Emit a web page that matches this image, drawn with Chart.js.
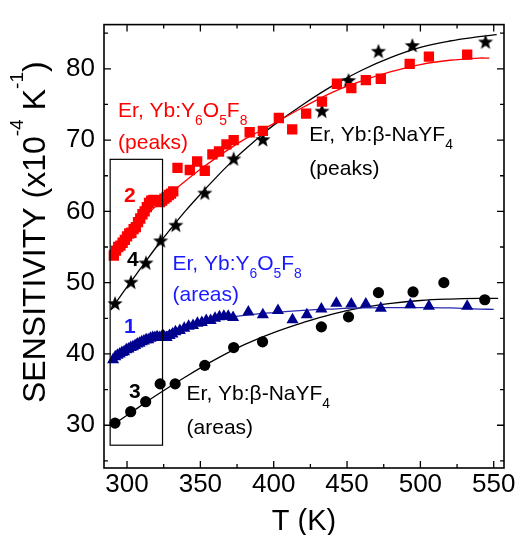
<!DOCTYPE html>
<html>
<head>
<meta charset="utf-8">
<script src="https://cdn.jsdelivr.net/npm/chart.js@4.4.1/dist/chart.umd.min.js"></script>
<style>
  html, body { margin: 0; padding: 0; background: #fff; }
  canvas { display: block; }
</style>
</head>
<body>
<canvas id="chart" width="519" height="535"></canvas>
<script>
const FONT = "'Liberation Sans', Arial, Helvetica, sans-serif";

// axis ticks
const xTicks = [300, 350, 400, 450, 500, 550];
const xMinor = [325, 375, 425, 475, 525];
const yTicks = [30, 40, 50, 60, 70, 80];
const yMinor = [25, 35, 45, 55, 65, 75, 85];

// 2: Er,Yb:Y6O5F8 (peaks) - red squares
const peaksYT = [291, 292.5, 294, 295.5, 297, 298.5, 300, 301.5, 303, 304.5, 306, 307.5, 309, 310.5, 312, 313.5, 315, 316.5, 318, 319.5, 321, 322.5, 324, 325.5, 327, 328.5, 330, 331.5,
  334.4, 342.8, 347.8, 353.0, 358.2, 362.7, 367.8, 372.7, 383.6, 392.6, 403.5, 412.6, 422.1, 432.9, 443.1, 452.9, 462.8, 473.0, 492.7, 505.8, 531.9];
const peaksYS = [53.8, 54.5, 55.0, 55.2, 55.6, 56.0, 56.5, 56.9, 57.0, 57.5, 57.8, 58.5, 59.0, 59.6, 60.0, 60.6, 61.2, 61.5, 61.6, 61.5, 61.5, 61.3, 61.5, 61.8, 62.0, 62.3, 62.5, 62.8,
  66.1, 65.8, 67.0, 65.7, 68.0, 68.4, 69.4, 70.0, 71.1, 71.3, 73.1, 71.5, 73.7, 75.4, 77.9, 77.3, 78.4, 78.6, 80.7, 81.7, 82.0];
const peaksYFitT = [288, 300, 310, 320, 330, 340, 350, 360, 370, 380, 390, 400, 420, 440, 460, 480, 500, 520, 540, 547];
const peaksYFitS = [54.4, 56.9, 58.9, 60.8, 62.6, 64.3, 65.9, 67.4, 68.8, 70.1, 71.2, 72.3, 74.6, 76.7, 78.3, 79.6, 80.6, 81.2, 81.5, 81.5];

// 4: Er,Yb:b-NaYF4 (peaks) - black stars
const peaksNT = [291.8, 302.7, 312.9, 322.9, 333.3, 353.0, 372.7, 392.6, 432.9, 451.0, 471.4, 494.5, 544.4];
const peaksNS = [47.0, 50.0, 52.7, 55.8, 58.0, 62.5, 67.3, 70.0, 74.0, 78.3, 82.4, 83.2, 83.7];
const peaksNFitT = [289, 300, 310, 320, 330, 340, 350, 360, 370, 380, 390, 400, 420, 440, 460, 480, 500, 520, 540, 552];
const peaksNFitS = [46.2, 49.4, 52.2, 55.0, 57.6, 60.1, 62.4, 64.6, 66.7, 68.6, 70.4, 72.1, 75.0, 77.6, 79.8, 81.6, 83.0, 83.9, 84.5, 84.8];

// 1: Er,Yb:Y6O5F8 (areas) - navy triangles
const areasYT = [290.5, 292, 293.5, 295, 296.5, 298, 299.5, 301, 302.5, 304, 305.5, 307, 308.5, 310, 311.5, 313, 314.5, 316, 317.5, 319, 320.5, 322, 323.5, 325, 327, 329, 331, 333, 336, 339, 342, 345, 348, 351, 354, 357, 360, 363, 366, 369,
  372.3, 382.7, 392.6, 402.9, 412.8, 422.6, 432.5, 442.7, 452.9, 462.8, 473.0, 493.1, 505.8, 531.9];
const areasYS = [39.2, 39.6, 39.8, 40.0, 40.2, 40.3, 40.6, 40.7, 40.9, 41.0, 41.2, 41.4, 41.5, 41.7, 41.8, 42.0, 42.0, 42.2, 42.3, 42.3, 42.4, 42.3, 42.4, 42.5, 42.3, 42.6, 42.8, 43.1, 43.3, 43.6, 43.9, 44.0, 44.3, 44.4, 44.7, 44.7, 45.0, 45.2, 45.3, 45.3,
  45.1, 45.9, 45.5, 46.1, 44.8, 45.5, 46.3, 47.1, 47.0, 47.0, 46.4, 46.9, 46.7, 46.7];
const areasYFitT = [289, 295, 300, 310, 320, 330, 340, 350, 360, 380, 400, 420, 440, 460, 480, 500, 520, 540, 550];
const areasYFitS = [39.0, 39.9, 40.6, 41.7, 42.6, 43.3, 43.9, 44.4, 44.8, 45.4, 45.8, 46.1, 46.3, 46.45, 46.5, 46.5, 46.45, 46.3, 46.25];

// 3: Er,Yb:b-NaYF4 (areas) - black circles
const areasNT = [291.8, 302.5, 312.7, 322.6, 332.8, 353.0, 372.7, 392.4, 432.5, 451.0, 471.4, 495.0, 516.0, 543.9];
const areasNS = [30.3, 31.9, 33.3, 35.8, 35.8, 38.4, 40.9, 41.7, 43.8, 45.2, 48.6, 48.7, 50.0, 47.6];
const areasNFitT = [290, 300, 320, 340, 360, 380, 400, 420, 440, 460, 480, 500, 520, 540, 553];
const areasNFitS = [30.0, 31.4, 34.2, 36.8, 39.2, 41.3, 43.0, 44.4, 45.6, 46.5, 47.1, 47.5, 47.7, 47.8, 47.8];

// inset box (T range, S range)
const boxT = [288.5, 324.2];
const boxS = [27.2, 67.3];

const pts = (xs, ys) => xs.map((x, i) => ({ x: x, y: ys[i] }));

function makeStar(r) {
    const c = document.createElement('canvas');
    c.width = c.height = Math.ceil(2 * r + 2);
    const g = c.getContext('2d');
    g.beginPath();
    for (let i = 0; i < 10; i++) {
        const a = -Math.PI / 2 + i * Math.PI / 5;
        const rr = i % 2 ? r * 0.42 : r;
        g.lineTo(c.width / 2 + rr * Math.cos(a), c.height / 2 + rr * Math.sin(a));
    }
    g.closePath();
    g.fillStyle = '#000';
    g.fill();
    return c;
}
const star = makeStar(8);

// text with sub/superscripts, drawn left to right from (x, y) baseline
function drawRich(ctx, parts, x, y, size, color) {
    ctx.fillStyle = color;
    ctx.textAlign = 'left';
    ctx.textBaseline = 'alphabetic';
    let cx = x;
    parts.forEach(p => {
        const txt = p[0], mode = p[1];
        let s = size, dy = 0;
        if (mode === 'sub') { s = size * 0.66; dy = size * 0.38; }
        if (mode === 'sup') { s = size * 0.6; dy = -size * 0.68; }
        ctx.font = s + 'px ' + FONT;
        ctx.fillText(txt, cx, y + dy);
        cx += ctx.measureText(txt).width;
    });
}

const y6o5f8 = [['Er, Yb:Y', ''], ['6', 'sub'], ['O', ''], ['5', 'sub'], ['F', ''], ['8', 'sub']];
const naYF4 = [['Er, Yb:\u03B2-NaYF', ''], ['4', 'sub']];

// labels anchored in data coordinates
const labels = [
    { t: 293.9, s: 73.3, parts: y6o5f8, color: '#ff0000' },
    { t: 293.9, s: 68.8, parts: [['(peaks)', '']], color: '#ff0000' },
    { t: 424.3, s: 69.9, parts: naYF4, color: '#000' },
    { t: 424.3, s: 65.1, parts: [['(peaks)', '']], color: '#000' },
    { t: 331.0, s: 51.8, parts: y6o5f8, color: '#1a1aff' },
    { t: 331.0, s: 47.4, parts: [['(areas)', '']], color: '#1a1aff' },
    { t: 340.6, s: 33.6, parts: naYF4, color: '#000' },
    { t: 340.6, s: 28.8, parts: [['(areas)', '']], color: '#000' }
];
const numbers = [
    { t: 302.0, s: 62.1, text: '2', color: '#ff0000' },
    { t: 303.9, s: 53.2, text: '4', color: '#000' },
    { t: 302.0, s: 43.8, text: '1', color: '#1a1aff' },
    { t: 305.4, s: 34.6, text: '3', color: '#000' }
];

const framePlugin = {
    id: 'frame',
    afterDatasetsDraw(chart) {
        const ctx = chart.ctx, a = chart.chartArea;
        const xs = chart.scales.x, ys = chart.scales.y;
        ctx.save();
        // inset rectangle
        ctx.strokeStyle = '#000';
        ctx.lineWidth = 1.2;
        const bx0 = xs.getPixelForValue(boxT[0]), bx1 = xs.getPixelForValue(boxT[1]);
        const by0 = ys.getPixelForValue(boxS[1]), by1 = ys.getPixelForValue(boxS[0]);
        ctx.strokeRect(bx0, by0, bx1 - bx0, by1 - by0);

        // frame
        ctx.lineWidth = 1.6;
        ctx.strokeRect(a.left, a.top, a.right - a.left, a.bottom - a.top);
        ctx.lineWidth = 1.3;
        ctx.beginPath();
        const tickX = (v, len) => {
            const p = xs.getPixelForValue(v);
            ctx.moveTo(p, a.bottom); ctx.lineTo(p, a.bottom - len);
            ctx.moveTo(p, a.top); ctx.lineTo(p, a.top + len);
        };
        const tickY = (v, len) => {
            const p = ys.getPixelForValue(v);
            ctx.moveTo(a.left, p); ctx.lineTo(a.left + len, p);
            ctx.moveTo(a.right, p); ctx.lineTo(a.right - len, p);
        };
        xTicks.forEach(v => tickX(v, 7));
        xMinor.forEach(v => tickX(v, 4));
        yTicks.forEach(v => tickY(v, 7));
        yMinor.forEach(v => tickY(v, 4));
        ctx.stroke();

        // series labels
        labels.forEach(l => {
            drawRich(ctx, l.parts, xs.getPixelForValue(l.t), ys.getPixelForValue(l.s), 21, l.color);
        });
        ctx.font = 'bold 21px ' + FONT;
        ctx.textAlign = 'center';
        ctx.textBaseline = 'middle';
        numbers.forEach(n => {
            ctx.fillStyle = n.color;
            ctx.fillText(n.text, xs.getPixelForValue(n.t), ys.getPixelForValue(n.s));
        });

        // axis titles
        ctx.fillStyle = '#000';
        ctx.font = '29px ' + FONT;
        ctx.textAlign = 'center';
        ctx.textBaseline = 'alphabetic';
        ctx.fillText('T (K)', (a.left + a.right) / 2, 530);

        ctx.translate(45, 403);
        ctx.rotate(-Math.PI / 2);
        drawRich(ctx, [['SENSITIVITY (x10', ''], ['-4', 'sup'], [' K', ''], ['-1', 'sup'], [')', '']], 0, 0, 32, '#000');
        ctx.restore();
    }
};

const tickFont = { size: 26, family: FONT };

new Chart(document.getElementById('chart'), {
    type: 'scatter',
    data: {
        datasets: [
            { data: pts(peaksYT, peaksYS), pointStyle: 'rect', pointRadius: 7.3, backgroundColor: '#ff0000', borderWidth: 0, order: 1 },
            { data: pts(peaksNT, peaksNS), pointStyle: star, pointRadius: 8, backgroundColor: '#000', order: 1 },
            { data: pts(areasYT, areasYS), pointStyle: 'triangle', pointRadius: 7, backgroundColor: '#00008f', borderWidth: 0, order: 1 },
            { data: pts(areasNT, areasNS), pointStyle: 'circle', pointRadius: 5.6, backgroundColor: '#000', borderWidth: 0, order: 1 },
            { data: pts(peaksYFitT, peaksYFitS), showLine: true, pointRadius: 0, borderColor: '#ff0000', borderWidth: 1.3, tension: 0.4, order: 2 },
            { data: pts(peaksNFitT, peaksNFitS), showLine: true, pointRadius: 0, borderColor: '#000', borderWidth: 1.3, tension: 0.4, order: 2 },
            { data: pts(areasYFitT, areasYFitS), showLine: true, pointRadius: 0, borderColor: '#2a2ab0', borderWidth: 1.3, tension: 0.4, order: 2 },
            { data: pts(areasNFitT, areasNFitS), showLine: true, pointRadius: 0, borderColor: '#000', borderWidth: 1.3, tension: 0.4, order: 2 }
        ]
    },
    options: {
        responsive: false,
        animation: false,
        layout: { padding: { top: 14, right: 15, left: 0, bottom: 0 } },
        plugins: {
            legend: { display: false },
            tooltip: { enabled: false }
        },
        scales: {
            x: {
                type: 'linear',
                min: 284.3,
                max: 557,
                grid: { display: false, drawTicks: false },
                border: { display: false },
                afterBuildTicks: s => { s.ticks = xTicks.map(v => ({ value: v })); },
                afterFit: s => { s.height = 67; },
                ticks: { font: tickFont, color: '#000', padding: 1, maxRotation: 0, autoSkip: false }
            },
            y: {
                type: 'linear',
                min: 24,
                max: 86.2,
                grid: { display: false, drawTicks: false },
                border: { display: false },
                afterBuildTicks: s => { s.ticks = yTicks.map(v => ({ value: v })); },
                afterFit: s => { s.width = 104; },
                ticks: { font: tickFont, color: '#000', padding: 9, autoSkip: false }
            }
        }
    },
    plugins: [framePlugin]
});
</script>
</body>
</html>
